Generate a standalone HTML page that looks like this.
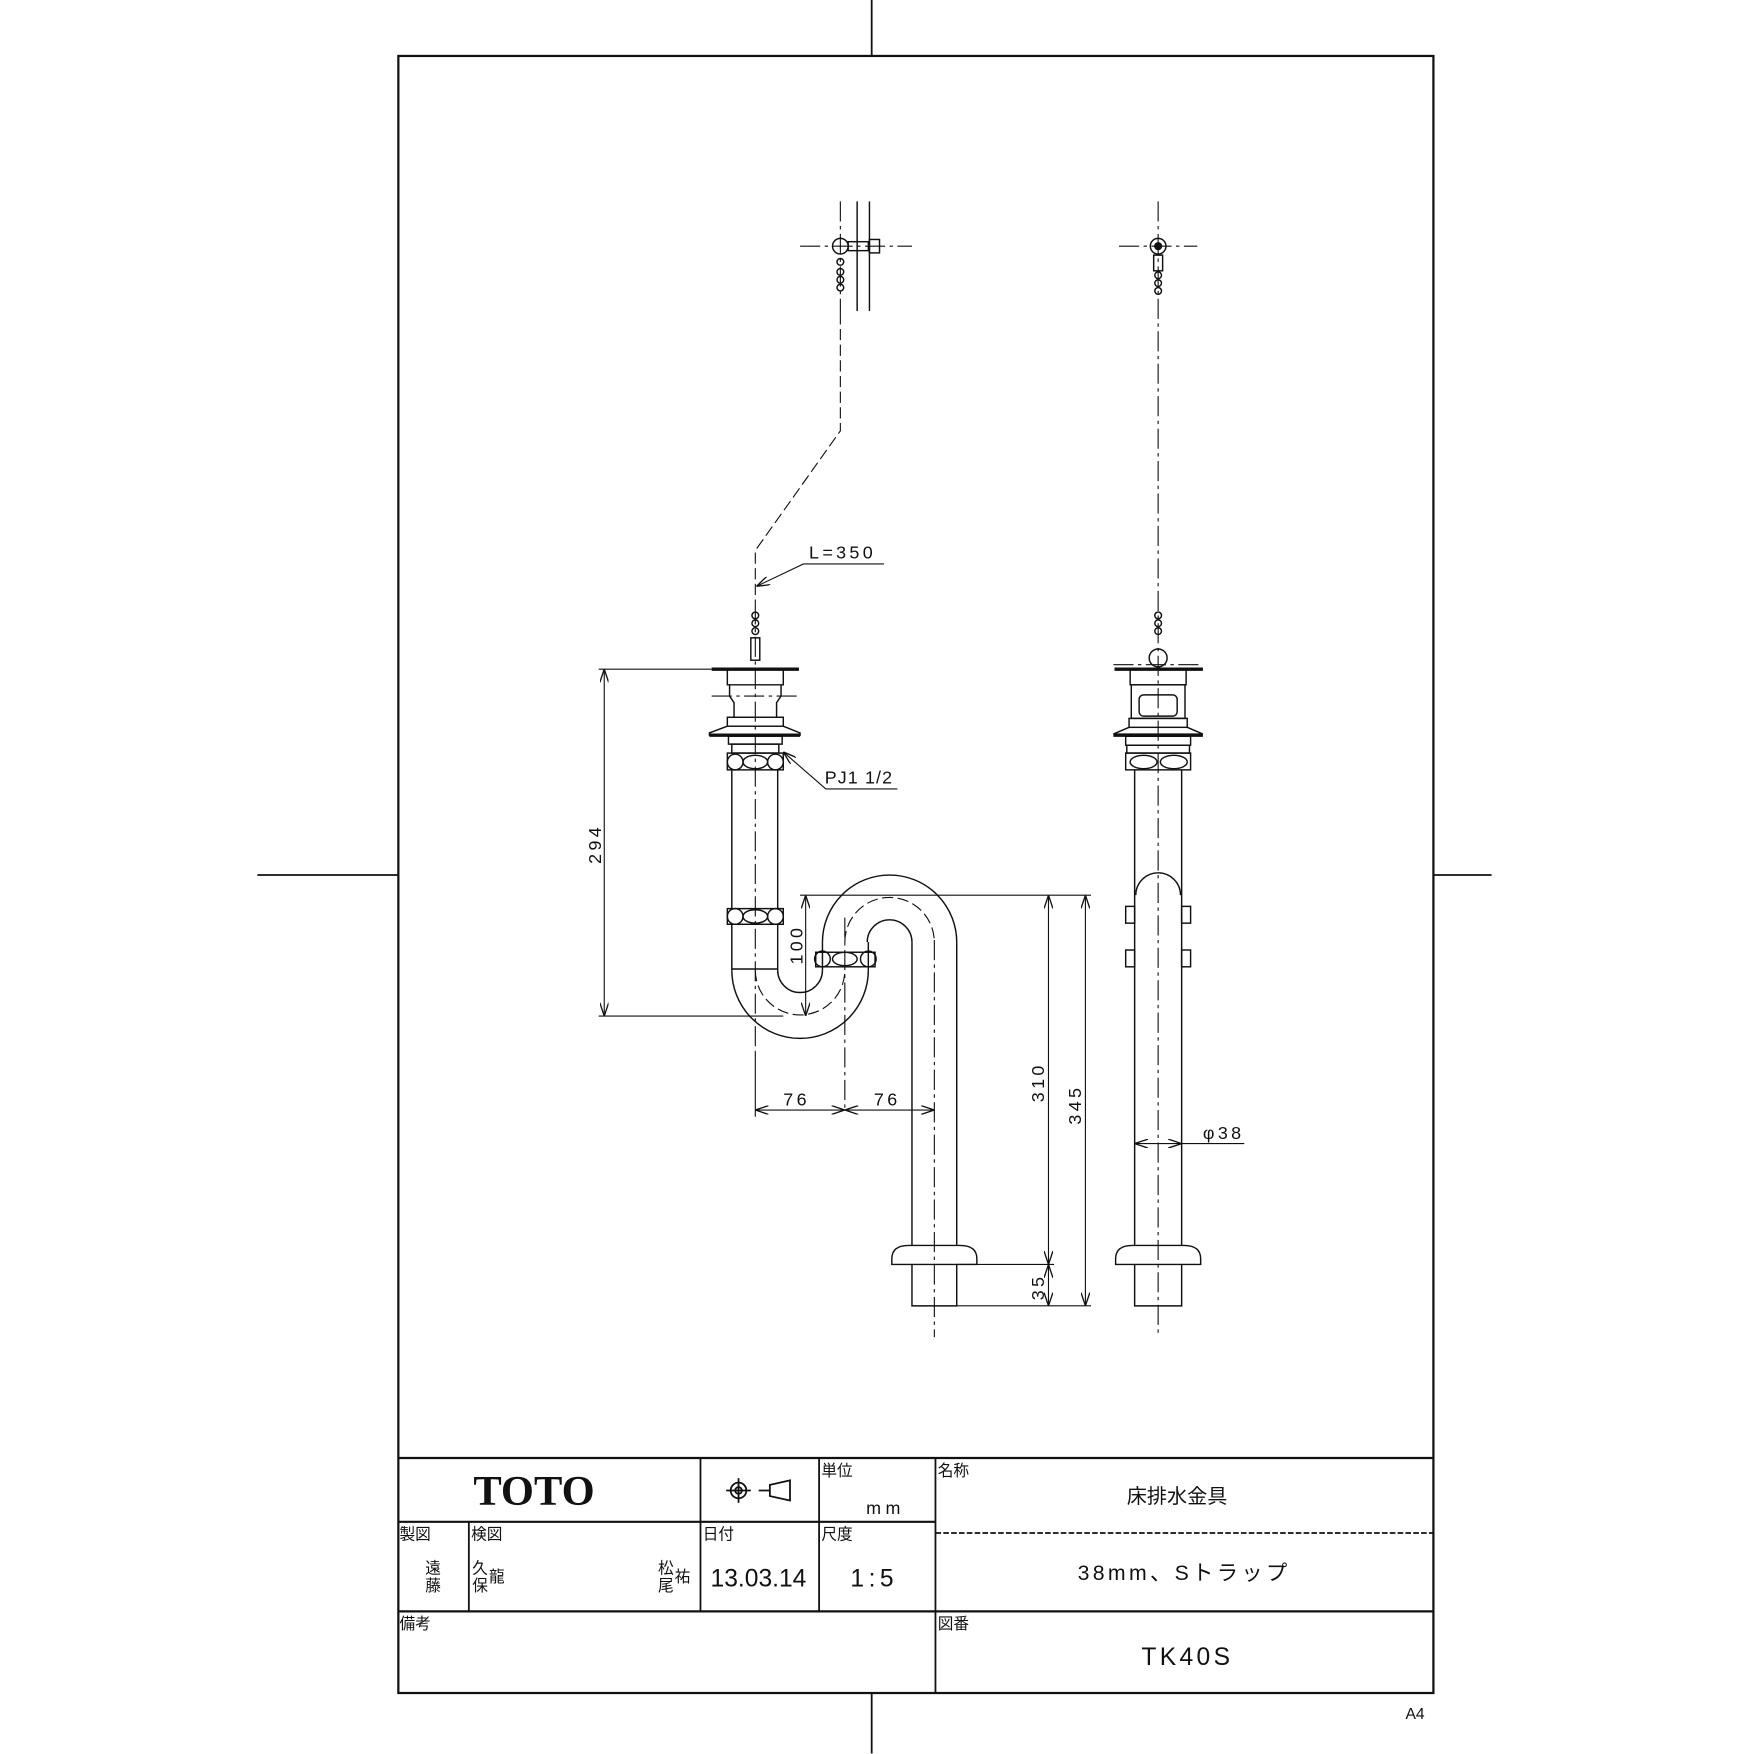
<!DOCTYPE html>
<html><head><meta charset="utf-8"><style>
html,body{margin:0;padding:0;background:#fff}
svg{display:block}
text{font-family:"Liberation Sans","Noto Sans CJK JP",sans-serif;fill:#111}
</style></head><body>
<svg width="1754" height="1754" viewBox="0 0 1567.5 1567.5" xmlns="http://www.w3.org/2000/svg">
<defs>
<marker id="ar" viewBox="0 0 12 8" refX="12" refY="4" markerWidth="12" markerHeight="8" orient="auto-start-reverse" markerUnits="userSpaceOnUse"><path d="M0,0 L12,4 L0,8" fill="none" stroke="#111" stroke-width="1.2"/></marker>
</defs>
<g fill="none" stroke="#111" stroke-width="1.6">
<rect x="356" y="50" width="925" height="1463" stroke-width="2"/>
<line x1="779" y1="0" x2="779" y2="50"/><line x1="779" y1="1513" x2="779" y2="1567"/>
<line x1="230" y1="782" x2="356" y2="782"/><line x1="1281" y1="782" x2="1333" y2="782"/>
<line x1="356" y1="1303" x2="1281" y2="1303" stroke-width="2"/>
<line x1="356" y1="1360" x2="836" y2="1360" stroke-width="2"/>
<line x1="836" y1="1370" x2="1281" y2="1370" stroke-dasharray="5,2"/>
<line x1="356" y1="1440" x2="1281" y2="1440" stroke-width="2"/>
<line x1="626" y1="1303" x2="626" y2="1440"/>
<line x1="732" y1="1303" x2="732" y2="1440"/>
<line x1="836" y1="1303" x2="836" y2="1513"/>
<line x1="419" y1="1360" x2="419" y2="1440"/>
<circle cx="660" cy="1332" r="7"/><circle cx="660" cy="1332" r="3"/>
<line x1="649" y1="1332" x2="671" y2="1332"/><line x1="660" y1="1321" x2="660" y2="1343"/>
<path d="M678,1332 H688 M688,1327 L706,1323 V1341 L688,1337 Z"/>
</g>
<g fill="none" stroke="#111" stroke-width="1.3">
<g stroke-dasharray="18,4,3,4" stroke-width="1">
<line x1="675" y1="540" x2="675" y2="940"/>
<line x1="755" y1="820" x2="755" y2="990"/>
<line x1="835" y1="840" x2="835" y2="1195"/>
<line x1="1035" y1="180" x2="1035" y2="1195"/>
<line x1="751" y1="180" x2="751" y2="280"/>
<line x1="715" y1="220" x2="815" y2="220"/>
<line x1="1000" y1="220" x2="1070" y2="220"/>
<line x1="636" y1="622" x2="714" y2="622"/>
<line x1="995" y1="594" x2="1075" y2="594"/>
<path d="M751,280 V385 L675,492 V540" stroke-dasharray="10,4"/>
</g>
<line x1="766" y1="180" x2="766" y2="278"/><line x1="777" y1="180" x2="777" y2="278"/>
<circle cx="751" cy="220" r="7"/><rect x="758" y="216" width="18" height="8"/><rect x="777" y="214" width="9" height="12"/>
<circle cx="751" cy="234" r="3"/><circle cx="751" cy="243" r="3"/><circle cx="751" cy="250" r="3"/><circle cx="751" cy="257" r="3"/>
<circle cx="1035" cy="220" r="7"/><circle cx="1035" cy="220" r="3" fill="#111"/><rect x="1031" y="228" width="8" height="14"/>
<circle cx="1035" cy="246" r="3"/><circle cx="1035" cy="253" r="3"/><circle cx="1035" cy="260" r="3"/>
<circle cx="675" cy="550" r="3"/><circle cx="675" cy="557" r="3"/><circle cx="675" cy="564" r="3"/><rect x="671" y="570" width="8" height="20"/>
<circle cx="1035" cy="550" r="3"/><circle cx="1035" cy="557" r="3"/><circle cx="1035" cy="564" r="3"/><circle cx="1035" cy="588" r="8"/>

<line x1="636" y1="598" x2="714" y2="598" stroke-width="3"/>
<path d="M650,599 V612 H700 V599"/>
<path d="M652,612 V622 L656,628 V641 M698,612 V622 L694,628 V641"/>
<rect x="650" y="641" width="50" height="8"/>
<path d="M650,649 L634,655 L634,657 H715 L715,655 L700,649"/>
<line x1="634" y1="657" x2="715" y2="657" stroke-width="3"/>
<rect x="651" y="658" width="48" height="7"/><rect x="654" y="665" width="42" height="8"/>
<rect x="650" y="673" width="50" height="15"/>
<circle cx="657" cy="681" r="7"/><circle cx="693" cy="681" r="7"/><ellipse cx="675" cy="681" rx="11" ry="6"/>
<path d="M654,688 V812 M695,688 V812"/>
<rect x="650" y="812" width="50" height="14"/>
<circle cx="657" cy="819" r="7"/><circle cx="693" cy="819" r="7"/><ellipse cx="675" cy="819" rx="11" ry="6"/>
<path d="M654,826 V867 M695,826 V867 M654,866 H695"/>
<path d="M654,867 A61,61 0 0 0 776,867"/>
<path d="M695,867 A20,20 0 0 0 735,867"/>
<path d="M675,867 A40,40 0 0 0 755,867" stroke-dasharray="10,4" stroke-width="1"/>
<path d="M735,842 V867 M776,842 V867"/>
<rect x="729" y="851" width="53" height="13"/>
<circle cx="735" cy="857" r="7"/><circle cx="776" cy="857" r="7"/><ellipse cx="755" cy="857" rx="11" ry="6"/>
<path d="M735,842 A60,60 0 0 1 855,842"/>
<path d="M775,842 A20,20 0 0 1 815,842"/>
<path d="M755,842 A40,40 0 0 1 835,842" stroke-dasharray="10,4" stroke-width="1"/>
<path d="M815,842 V1113 M855,842 V1113"/>
<path d="M797,1130 V1125 Q797,1113 812,1113 H858 Q873,1113 873,1125 V1130 Z"/>
<path d="M815,1130 V1167 H855 V1130"/>

<line x1="996" y1="598" x2="1075" y2="598" stroke-width="3"/>
<path d="M1010,599 V612 H1060 V599"/>
<rect x="1011" y="612" width="48" height="30"/>
<rect x="1018" y="621" width="34" height="19" rx="4"/>
<rect x="1009" y="642" width="52" height="8"/>
<path d="M1009,650 L995,656 H1075 L1061,650"/>
<line x1="995" y1="657" x2="1075" y2="657" stroke-width="3"/>
<rect x="1006" y="658" width="58" height="8"/><rect x="1007" y="666" width="56" height="7"/>
<rect x="1006" y="673" width="58" height="15"/>
<ellipse cx="1022" cy="681" rx="12" ry="6"/><ellipse cx="1049" cy="681" rx="12" ry="6"/>
<path d="M1014,688 V1113 M1056,688 V1113"/>
<path d="M1015,800 A20,20 0 0 1 1055,800"/>
<rect x="1006" y="810" width="8" height="15"/><rect x="1056" y="810" width="8" height="15"/>
<rect x="1006" y="849" width="8" height="15"/><rect x="1056" y="849" width="8" height="15"/>
<path d="M997,1130 V1125 Q997,1113 1012,1113 H1058 Q1073,1113 1073,1125 V1130 Z"/>
<path d="M1014,1130 V1167 H1056 V1130"/>

<g stroke-width="1">
<line x1="535" y1="598" x2="636" y2="598"/>
<line x1="535" y1="908" x2="700" y2="908"/>
<line x1="540" y1="598" x2="540" y2="908" marker-start="url(#ar)" marker-end="url(#ar)"/>
<line x1="715" y1="800" x2="975" y2="800"/>
<line x1="720" y1="800" x2="720" y2="908" marker-start="url(#ar)" marker-end="url(#ar)"/>
<line x1="855" y1="1130" x2="942" y2="1130"/>
<line x1="855" y1="1167" x2="975" y2="1167"/>
<line x1="937" y1="800" x2="937" y2="1130" marker-start="url(#ar)" marker-end="url(#ar)"/>
<line x1="937" y1="1130" x2="937" y2="1167" marker-start="url(#ar)" marker-end="url(#ar)"/>
<line x1="970" y1="800" x2="970" y2="1167" marker-start="url(#ar)" marker-end="url(#ar)"/>
<line x1="675" y1="940" x2="675" y2="998"/>
<line x1="675" y1="992" x2="755" y2="992" marker-start="url(#ar)" marker-end="url(#ar)"/>
<line x1="755" y1="992" x2="835" y2="992" marker-start="url(#ar)" marker-end="url(#ar)"/>
<line x1="1014" y1="1022" x2="1056" y2="1022" marker-start="url(#ar)" marker-end="url(#ar)"/>
<path d="M1056,1022 H1112"/>
<path d="M676,524 L718,504 H790" marker-start="url(#ar)"/>
<path d="M700,672 L738,705 H802" marker-start="url(#ar)"/>
</g>
</g>
<g font-size="16" letter-spacing="3">
<text x="723" y="499">L=350</text>
<text x="737" y="700" letter-spacing="1">PJ1 1/2</text>
<text x="700" y="988">76</text><text x="781" y="988">76</text>
<text x="1075" y="1018">φ38</text>
<text transform="translate(537,772) rotate(-90)">294</text>
<text transform="translate(717,862) rotate(-90)">100</text>
<text transform="translate(933,985) rotate(-90)">310</text>
<text transform="translate(966,1005) rotate(-90)">345</text>
<text transform="translate(933,1162) rotate(-90)">35</text>
</g>
<text x="423" y="1345" style="font-family:'Liberation Serif',serif;font-size:38px;font-weight:bold">TOTO</text>
<g font-size="14">
<text x="734" y="1319">単位</text><text x="838" y="1319">名称</text>
<text x="357" y="1376">製図</text><text x="421" y="1376">検図</text><text x="628" y="1376">日付</text><text x="734" y="1376">尺度</text>
<text x="357" y="1456">備考</text><text x="838" y="1456">図番</text>
<text x="380" y="1406">遠</text><text x="380" y="1422">藤</text>
<text x="422" y="1406">久</text><text x="422" y="1422">保</text><text x="437" y="1414">龍</text>
<text x="588" y="1406">松</text><text x="588" y="1422">尾</text><text x="603" y="1414">祐</text>
</g>
<text x="774" y="1353" font-size="16" letter-spacing="4">mm</text>
<text x="1007" y="1343" font-size="18">床排水金具</text>
<text x="963" y="1412" font-size="19" letter-spacing="3">38mm、Sトラップ</text>
<text x="635" y="1418" font-size="22">13.03.14</text>
<text x="760" y="1418" font-size="22" letter-spacing="4">1:5</text>
<text x="1020" y="1488" font-size="22" letter-spacing="3">TK40S</text>
<text x="1256" y="1536" font-size="14">A4</text>
</svg>
</body></html>
